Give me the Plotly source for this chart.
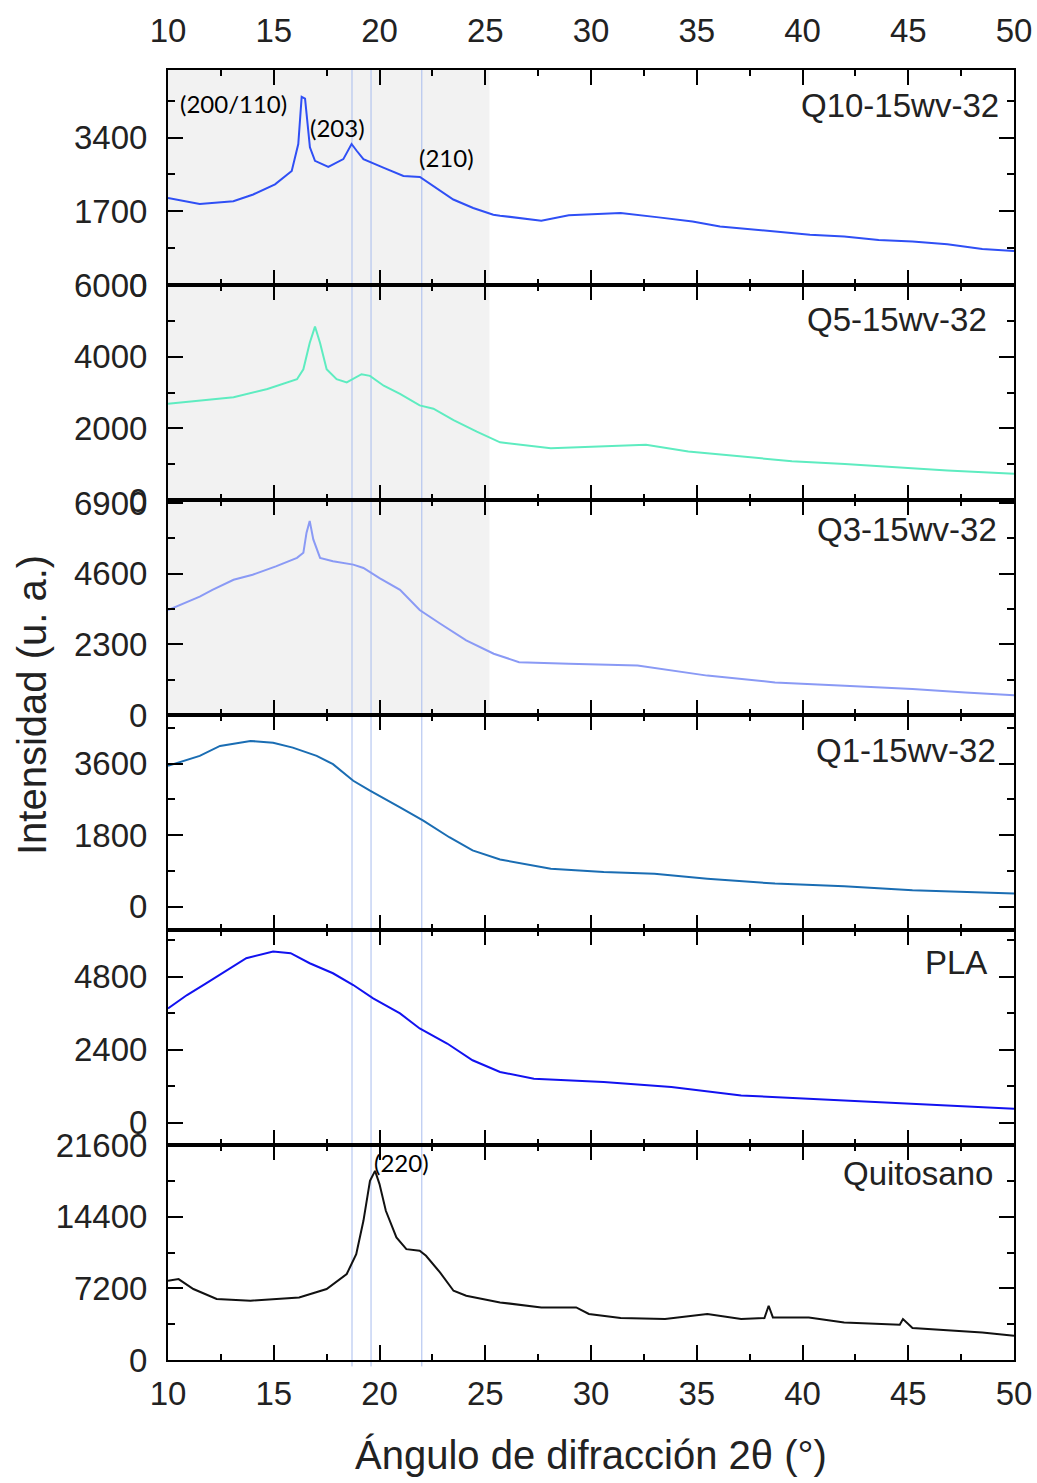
import plotly.graph_objects as go
from plotly.subplots import make_subplots

# ---------------- data ----------------
q10_x = [10.0, 11.5, 13.09, 14.03, 15.06, 15.85, 16.16, 16.32, 16.48, 16.71, 16.95, 17.58, 18.29,
         18.68, 18.92, 19.24, 20.18, 21.13, 21.91, 22.54, 23.49, 24.43, 25.38, 25.7, 27.65, 28.95,
         31.4, 33.2, 34.8, 36.1, 38.7, 40.35, 41.97, 43.6, 45.2, 46.85, 48.5, 50.0]
q10_y = [2010, 1870, 1933, 2089, 2322, 2632, 3253, 4339, 4300, 3175, 2865, 2725, 2904,
         3253, 3097, 2904, 2709, 2515, 2492, 2282, 1972, 1777, 1623, 1600, 1483, 1607,
         1661, 1560, 1467, 1351, 1234, 1157, 1118, 1040, 1001, 939, 831, 785]

q5_x = [10.0, 11.5, 13.1, 14.7, 15.45, 16.1, 16.4, 16.7, 16.95, 17.19, 17.5, 17.97, 18.45, 19.15,
        19.55, 20.2, 20.97, 21.9, 22.55, 23.5, 24.6, 25.7, 28.1, 30.6, 32.6, 34.6, 37.1, 39.5,
        42.0, 44.4, 46.85, 50.0]
q5_y = [2684, 2777, 2868, 3097, 3234, 3372, 3647, 4381, 4840, 4381, 3647, 3372, 3281, 3510,
        3465, 3190, 2959, 2640, 2547, 2228, 1906, 1610, 1447, 1493, 1540, 1356, 1218, 1081,
        1007, 916, 825, 733]

q3_x = [10.0, 11.5, 12.1, 13.1, 14.0, 15.1, 16.1, 16.4, 16.55, 16.7, 16.87, 17.19, 17.8, 18.76,
        19.24, 20.0, 20.97, 21.9, 22.86, 24.1, 25.4, 26.6, 28.95, 32.2, 35.5, 38.7, 42.0, 45.2,
        47.7, 50.0]
q3_y = [3417, 3855, 4075, 4403, 4567, 4840, 5116, 5280, 5938, 6319, 5717, 5116, 5005, 4896,
        4788, 4459, 4075, 3417, 2980, 2432, 1995, 1719, 1666, 1610, 1282, 1061, 953, 844,
        733, 647]

q1_x = [10.0, 11.5, 12.46, 13.9, 14.97, 15.9, 17.03, 17.8, 18.76, 19.55, 20.97, 22.07, 23.3,
        24.4, 25.7, 28.1, 30.6, 33.0, 35.5, 38.7, 41.97, 45.2, 50.0]
q1_y = [3543, 3793, 4043, 4168, 4125, 4000, 3793, 3585, 3168, 2918, 2500, 2168, 1750,
        1418, 1190, 960, 875, 835, 710, 585, 518, 418, 335]

pla_x = [10.0, 10.9, 11.8, 12.8, 13.7, 14.97, 15.8, 16.7, 17.8, 18.76, 19.7, 20.97, 21.9, 23.2,
         24.4, 25.7, 27.3, 30.6, 33.8, 37.1, 40.35, 43.6, 46.85, 50.0]
pla_y = [3762, 4201, 4587, 5026, 5412, 5630, 5577, 5247, 4917, 4531, 4092, 3597, 3102, 2607,
         2056, 1670, 1452, 1340, 1175, 901, 792, 680, 571, 462]

quit_x = [10.0, 10.5, 11.2, 12.3, 13.9, 16.2, 17.5, 18.45, 18.9, 19.24, 19.55, 19.79, 20.0, 20.3,
          20.8, 21.27, 21.9, 22.2, 22.86, 23.5, 24.1, 25.7, 27.65, 29.3, 29.9, 31.4, 33.5, 35.5,
          37.1, 38.2, 38.4, 38.6, 40.3, 41.97, 44.6, 44.75, 45.2, 48.5, 50.0]
quit_y = [7960, 8130, 7130, 6125, 5955, 6285, 7130, 8635, 10640, 13985, 18000, 19000, 17670, 14990,
          12310, 11140, 10970, 10470, 8795, 6955, 6455, 5785, 5285, 5285, 4620, 4215, 4115, 4620,
          4115, 4215, 5450, 4280, 4280, 3775, 3545, 4115, 3213, 2770, 2440]

series_names = ["Q10-15wv-32", "Q5-15wv-32", "Q3-15wv-32", "Q1-15wv-32", "PLA", "Quitosano"]
series_x = [q10_x, q5_x, q3_x, q1_x, pla_x, quit_x]
series_y = [q10_y, q5_y, q3_y, q1_y, pla_y, quit_y]
series_colors = ["#2f4ff5", "#5eecc0", "#8a9af5", "#1a6db3", "#1212f0", "#111111"]

y_ranges = [[0, 4960], [0, 6000], [0, 7000], [-580, 4820], [-730, 6340], [0, 21600]]
y_ticks = [[0, 1700, 3400], [0, 2000, 4000, 6000], [0, 2300, 4600, 6900],
           [0, 1800, 3600], [0, 2400, 4800], [0, 7200, 14400, 21600]]
y_minor = [850, 1000, 1150, 900, 1200, 3600]

x_ticks = [10, 15, 20, 25, 30, 35, 40, 45, 50]
peak_lines = [18.7, 19.6, 22.0]
shade_range = [10, 25.2]

label_pos = [(0.985, 0.836), (0.971, 0.838), (0.982, 0.865), (0.981, 0.833), (0.971, 0.85), (0.977, 0.866)]

hkl_text = ["(200/110)", "(203)", "(210)", "(220)"]
hkl_x = [10.47, 16.62, 21.77, 19.65]
hkl_y = [4192, 3633, 2935, 19810]
hkl_row = [1, 1, 1, 6]

# ---------------- figure ----------------
fig = make_subplots(rows=6, cols=1, shared_xaxes=True, vertical_spacing=0)

tick_font = dict(family="Liberation Sans, Arial", size=33, color="#222222")

for i in range(6):
    fig.add_trace(go.Scatter(x=series_x[i], y=series_y[i], mode="lines",
                             line=dict(color=series_colors[i], width=2),
                             showlegend=False, hoverinfo="skip"), row=i + 1, col=1)

for i in range(6):
    r = i + 1
    xa = "x" if r == 1 else f"x{r}"
    ya = "y" if r == 1 else f"y{r}"
    if r <= 3:
        fig.add_shape(type="rect", xref=xa, yref=f"{ya} domain", x0=shade_range[0], x1=shade_range[1],
                      y0=0, y1=1, fillcolor="#f2f2f2", line=dict(width=0), layer="below")
    for px in peak_lines:
        fig.add_shape(type="line", xref=xa, yref=f"{ya} domain", x0=px, x1=px,
                      y0=(-0.03 if r == 6 else 0), y1=1,
                      line=dict(color="#a9bdee", width=1), layer="below")
    fig.add_annotation(xref=f"{xa} domain", yref=f"{ya} domain", x=label_pos[i][0], y=label_pos[i][1],
                       text=series_names[i], showarrow=False, xanchor="right", yanchor="middle",
                       font=dict(family="Liberation Sans, Arial", size=33, color="#222222"))

for t, xx, yy, rr in zip(hkl_text, hkl_x, hkl_y, hkl_row):
    xa = "x" if rr == 1 else f"x{rr}"
    ya = "y" if rr == 1 else f"y{rr}"
    fig.add_annotation(xref=xa, yref=ya, x=xx, y=yy, text=t, showarrow=False,
                       xanchor="left", yanchor="middle",
                       font=dict(family="Lato, Open Sans", size=24, color="black"))

for i in range(6):
    r = i + 1
    fig.update_xaxes(range=[10, 50], tickvals=x_ticks, ticktext=[str(v) for v in x_ticks],
                     ticks="inside", ticklen=15, tickwidth=2,
                     tickcolor="black", showline=True, linewidth=2, linecolor="black", mirror="ticks",
                     minor=dict(dtick=2.5, tick0=10, ticks="inside", ticklen=6, tickwidth=2, tickcolor="black"),
                     showgrid=False, zeroline=False, tickfont=tick_font, automargin=False,
                     showticklabels=(r in (1, 6)), side=("top" if r == 1 else "bottom"),
                     ticklabelstandoff=(13 if r == 1 else 3), row=r, col=1)
    fig.update_yaxes(range=y_ranges[i], tickvals=y_ticks[i], ticktext=[str(v) for v in y_ticks[i]],
                     ticks="inside", ticklen=15, tickwidth=2,
                     tickcolor="black", showline=True, linewidth=2, linecolor="black", mirror="ticks",
                     minor=dict(dtick=y_minor[i], tick0=0, ticks="inside", ticklen=7, tickwidth=2, tickcolor="black"),
                     showgrid=False, zeroline=False, tickfont=tick_font, ticklabelstandoff=12,
                     automargin=False, row=r, col=1)

# axis titles
fig.add_annotation(xref="paper", yref="paper", x=0.5, y=0, yshift=-95, text="Ángulo de difracción 2θ (°)",
                   showarrow=False, xanchor="center", yanchor="middle",
                   font=dict(family="Liberation Sans, Arial", size=40, color="#222222"))
fig.add_annotation(xref="paper", yref="paper", x=0, xshift=-136, y=0.5, yshift=10,
                   text="Intensidad (u. a.)", textangle=-90,
                   showarrow=False, xanchor="center", yanchor="middle",
                   font=dict(family="Liberation Sans, Arial", size=40, color="#222222"))

fig.update_layout(width=1037, height=1483, margin=dict(l=168, r=23, t=70, b=123, autoexpand=False),
                  plot_bgcolor="rgba(0,0,0,0)", paper_bgcolor="white", showlegend=False)

fig.write_html("out.html", config={"displayModeBar": False},
               post_script="document.body.style.margin='0px';document.body.style.overflow='hidden';")
